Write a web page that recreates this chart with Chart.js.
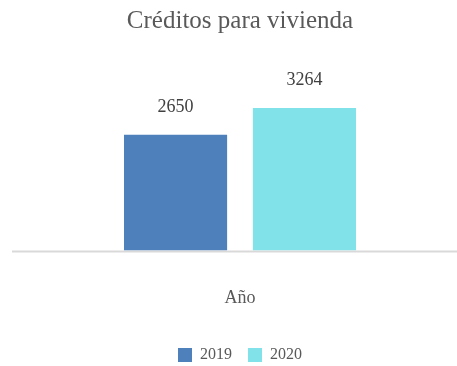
<!DOCTYPE html>
<html>
<head>
<meta charset="utf-8">
<script src="https://cdn.jsdelivr.net/npm/chart.js@4"></script>
<style>
  html, body { margin: 0; padding: 0; background: #fff; }
  #wrap { width: 457px; height: 366px; }
</style>
</head>
<body>
<div id="wrap"><canvas id="myChart"></canvas></div>
<script>
// datos
var categorias = [''];
var anios = ['2019', '2020'];
var creditos2019 = [2650];
var creditos2020 = [3264];
var colores = ['#4e80bc', '#82e2ea'];

var fuenteSerif = '"Liberation Serif", "Times New Roman", serif';

// linea base que sale un poco mas a la izquierda del area
var lineaBase = {
  id: 'lineaBase',
  beforeDatasetsDraw: function (chart) {
    var ctx = chart.ctx;
    var y = chart.scales.y.getPixelForValue(0);
    ctx.save();
    ctx.strokeStyle = '#d9d9d9';
    ctx.lineWidth = 2;
    ctx.beginPath();
    ctx.moveTo(12, y + 1);
    ctx.lineTo(chart.width, y + 1);
    ctx.stroke();
    ctx.restore();
  }
};

// valores encima de cada barra
var etiquetas = {
  id: 'etiquetas',
  afterDatasetsDraw: function (chart) {
    var ctx = chart.ctx;
    ctx.save();
    ctx.font = '18px ' + fuenteSerif;
    ctx.fillStyle = '#404040';
    ctx.textAlign = 'center';
    ctx.textBaseline = 'bottom';
    chart.data.datasets.forEach(function (ds, i) {
      chart.getDatasetMeta(i).data.forEach(function (bar, j) {
        ctx.fillText(ds.data[j], bar.x, bar.y - 19);
      });
    });
    ctx.restore();
  }
};

var createChart = function () {
  var ctx = document.getElementById('myChart');
  new Chart(ctx, {
    type: 'bar',
    data: {
      labels: categorias,
      datasets: [
        { label: anios[0], data: creditos2019, backgroundColor: colores[0] },
        { label: anios[1], data: creditos2020, backgroundColor: colores[1] }
      ]
    },
    options: {
      responsive: true,
      maintainAspectRatio: false,
      animation: false,
      categoryPercentage: 0.594,
      barPercentage: 0.8,
      layout: { padding: { left: 23, right: 0, top: 0, bottom: -7 } },
      scales: {
        x: {
          grid: { display: false, drawTicks: false },
          border: { display: false },
          ticks: { display: false },
          title: {
            display: true,
            text: 'Año',
            color: '#595959',
            font: { family: fuenteSerif, size: 18 },
            padding: { top: 37, bottom: 22 }
          }
        },
        y: {
          display: false,
          min: 0,
          max: 4000
        }
      },
      plugins: {
        title: {
          display: true,
          text: 'Créditos para vivienda',
          color: '#595959',
          font: { family: fuenteSerif, size: 25, weight: 'normal' },
          padding: { top: 6, bottom: 40 }
        },
        legend: {
          position: 'bottom',
          labels: {
            color: '#595959',
            font: { family: fuenteSerif, size: 16 },
            boxWidth: 14,
            boxHeight: 14,
            padding: 16
          }
        },
        tooltip: { enabled: false }
      }
    },
    plugins: [lineaBase, etiquetas]
  });
};

createChart();
</script>
</body>
</html>
